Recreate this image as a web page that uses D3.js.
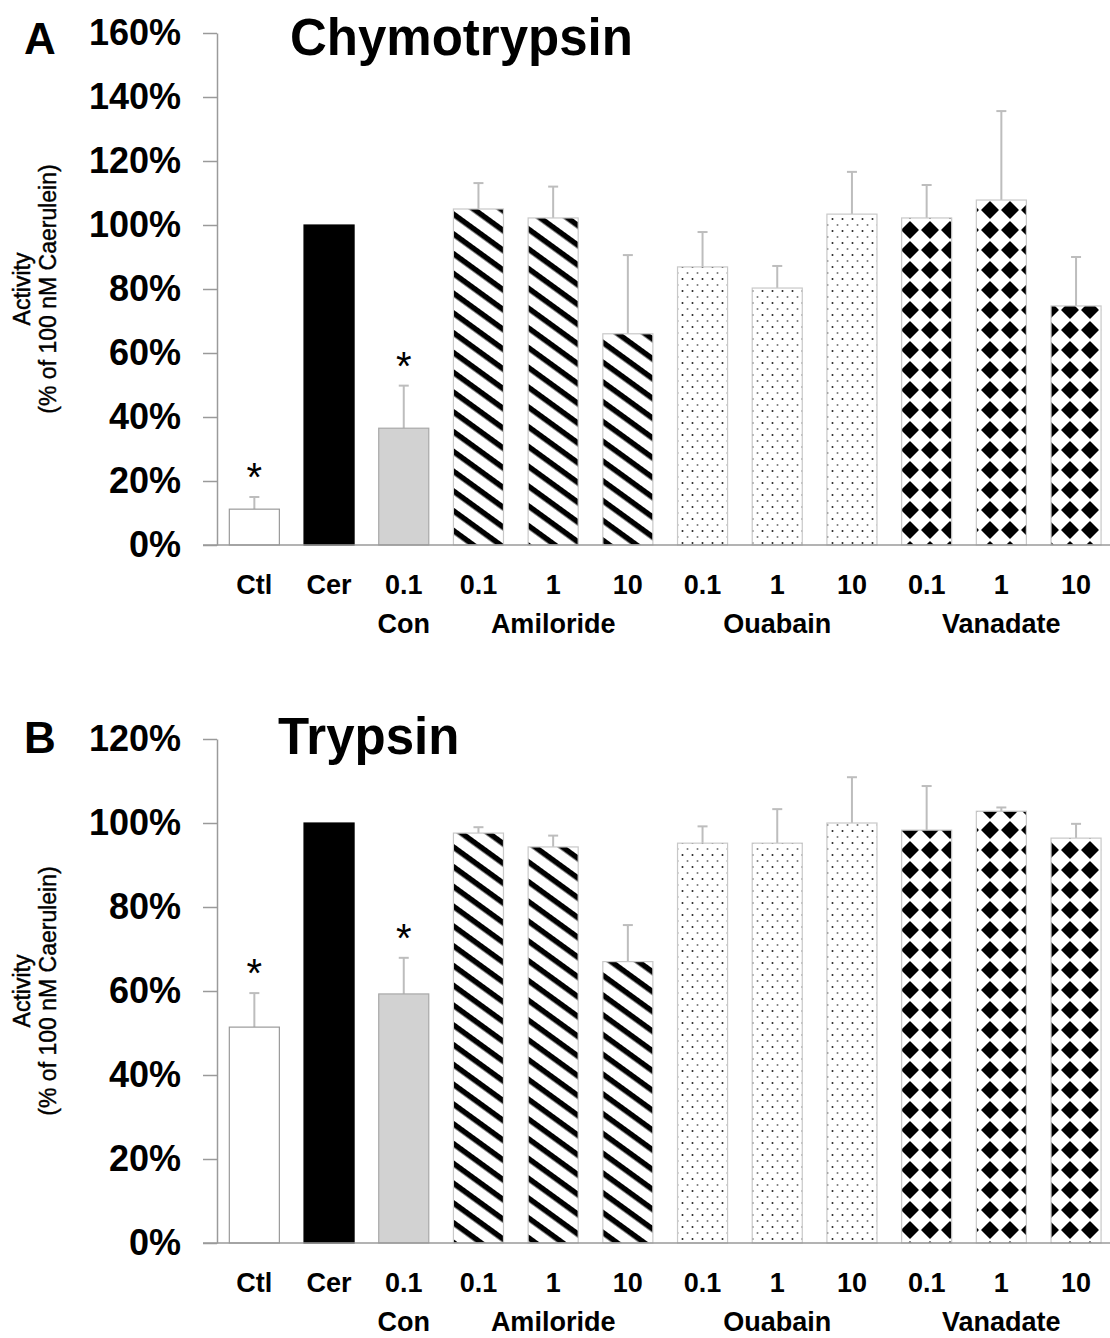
<!DOCTYPE html>
<html>
<head>
<meta charset="utf-8">
<script src="https://cdn.jsdelivr.net/npm/d3@7"></script>
<style>
  body { margin: 0; background: #fff; }
  text { font-family: "Liberation Sans", Arial, Helvetica, sans-serif; }
</style>
</head>
<body>
<div id="chart"></div>
<script>
// 1110 x 1338, two panels stacked

var categories = ["Ctl", "Cer", "0.1", "0.1", "1", "10", "0.1", "1", "10", "0.1", "1", "10"];
var treatment  = ["ctl", "cer", "con", "amil", "amil", "amil", "oua", "oua", "oua", "van", "van", "van"];
var groupLabels = ["Con", "Amiloride", "Ouabain", "Vanadate"];
var groupAt     = [2, 4, 7, 10];   // index of the category each group label sits under

// Panel A - chymotrypsin activity (% of 100 nM caerulein)
var chymoMean = [11.2, 100, 36.5, 105, 102.2, 66, 86.9, 80.3, 103.4, 102.2, 107.8, 74.7];
var chymoErr  = [3.8, 0, 13.3, 8.1, 9.8, 24.6, 10.9, 6.9, 13.2, 10.3, 27.8, 15.3];
var chymoSig  = [true, false, true, false, false, false, false, false, false, false, false, false];
var chymoTicks = [0, 20, 40, 60, 80, 100, 120, 140, 160];

// Panel B - trypsin activity
var tryMean = [51.4, 100, 59.3, 97.6, 94.3, 67, 95.2, 95.2, 100, 98.3, 102.8, 96.4];
var tryErr  = [8.1, 0, 8.6, 1.4, 2.7, 8.7, 4, 8.1, 10.9, 10.5, 0.9, 3.4];
var trySig  = [true, false, true, false, false, false, false, false, false, false, false, false];
var tryTicks = [0, 20, 40, 60, 80, 100, 120];

var W = 1110, H = 1338;
var axisX = 217;

var svg = d3.select('#chart').append('svg')
    .attr('width', W)
    .attr('height', H);

// fill patterns
var defs = svg.append('defs');

var stripe = defs.append('pattern')
    .attr('id', 'stripe')
    .attr('patternUnits', 'userSpaceOnUse')
    .attr('width', 10).attr('height', 16)
    .attr('patternTransform', 'rotate(36)');
stripe.append('rect').attr('width', 10).attr('height', 16).attr('fill', '#fff');
stripe.append('rect').attr('width', 10).attr('height', 5.5).attr('fill', '#000');

var dots = defs.append('pattern')
    .attr('id', 'dots')
    .attr('patternUnits', 'userSpaceOnUse')
    .attr('width', 10).attr('height', 12);
dots.append('rect').attr('width', 10).attr('height', 12).attr('fill', '#fff');
dots.append('circle').attr('cx', 2.5).attr('cy', 3).attr('r', 1).attr('fill', '#222');
dots.append('circle').attr('cx', 7.5).attr('cy', 9).attr('r', 1).attr('fill', '#777');

var diam = defs.append('pattern')
    .attr('id', 'diam')
    .attr('patternUnits', 'userSpaceOnUse')
    .attr('width', 20).attr('height', 20);
diam.append('rect').attr('width', 20).attr('height', 20).attr('fill', '#fff');
diam.append('polygon').attr('points', '10,2 18,10 10,18 2,10')
    .attr('fill', '#000').attr('stroke', '#000').attr('stroke-width', 1.5)
    .attr('stroke-linejoin', 'round');

var fillOf = {
    ctl: '#fff', cer: '#000', con: '#d2d2d2',
    amil: 'url(#stripe)', oua: 'url(#dots)', van: 'url(#diam)'
};
var strokeOf = {
    ctl: '#9a9a9a', cer: '#000', con: '#a8a8a8',
    amil: '#c8c8c8', oua: '#c8c8c8', van: '#c8c8c8'
};

var x = d3.scaleBand()
    .domain(d3.range(categories.length))
    .range([axisX, axisX + 12 * 74.7])
    .paddingInner(0.33)
    .paddingOuter(0.165);

function drawPanel(top, bottom, ticks, means, errs, sig, letter, title, titleX, titleY) {
    var g = svg.append('g');
    var y = d3.scaleLinear()
        .domain([0, d3.max(ticks)])
        .range([bottom, top]);

    // y axis
    var yAxis = d3.axisLeft(y)
        .tickValues(ticks)
        .tickSize(14)
        .tickSizeOuter(0)
        .tickPadding(22)
        .tickFormat(function(d) { return d + '%'; });

    var ax = g.append('g')
        .attr('transform', 'translate(' + axisX + ',0)')
        .call(yAxis);
    ax.select('.domain').attr('stroke', '#9a9a9a').attr('stroke-width', 1.5);
    ax.selectAll('.tick line').attr('stroke', '#9a9a9a').attr('stroke-width', 1.5);
    ax.selectAll('.tick text')
        .attr('fill', '#000')
        .attr('font-size', '36px')
        .attr('font-weight', 'bold')
        .style('font-family', '"Liberation Sans", Arial, sans-serif');

    // error bars (upward only)
    var eb = g.selectAll('.err')
        .data(means.map(function(m, i) { return { i: i, m: m, e: errs[i] }; })
            .filter(function(d) { return d.e > 0; }))
        .enter().append('g')
        .attr('class', 'err');
    eb.append('line')
        .attr('x1', function(d) { return x(d.i) + x.bandwidth() / 2; })
        .attr('x2', function(d) { return x(d.i) + x.bandwidth() / 2; })
        .attr('y1', function(d) { return y(d.m); })
        .attr('y2', function(d) { return y(d.m + d.e); })
        .attr('stroke', '#bdbdbd').attr('stroke-width', 2);
    eb.append('line')
        .attr('x1', function(d) { return x(d.i) + x.bandwidth() / 2 - 5; })
        .attr('x2', function(d) { return x(d.i) + x.bandwidth() / 2 + 5; })
        .attr('y1', function(d) { return y(d.m + d.e); })
        .attr('y2', function(d) { return y(d.m + d.e); })
        .attr('stroke', '#bdbdbd').attr('stroke-width', 2);

    // bars
    g.selectAll('.bar')
        .data(means)
        .enter().append('rect')
        .attr('class', 'bar')
        .attr('x', function(d, i) { return x(i); })
        .attr('width', x.bandwidth())
        .attr('y', function(d) { return y(d); })
        .attr('height', function(d) { return y(0) - y(d); })
        .attr('fill', function(d, i) { return fillOf[treatment[i]]; })
        .attr('stroke', function(d, i) { return strokeOf[treatment[i]]; })
        .attr('stroke-width', 1.2);

    // baseline
    g.append('line')
        .attr('x1', axisX - 14).attr('x2', W)
        .attr('y1', y(0)).attr('y2', y(0))
        .attr('stroke', '#9a9a9a').attr('stroke-width', 1.5);

    // significance stars
    g.selectAll('.star')
        .data(means.map(function(m, i) { return { i: i, m: m, e: errs[i], s: sig[i] }; })
            .filter(function(d) { return d.s; }))
        .enter().append('text')
        .attr('class', 'star')
        .attr('x', function(d) { return x(d.i) + x.bandwidth() / 2; })
        .attr('y', function(d) { return y(d.m + d.e) - 6; })
        .attr('text-anchor', 'middle')
        .attr('font-size', '40px')
        .text('*');

    // category labels
    g.selectAll('.cat')
        .data(categories)
        .enter().append('text')
        .attr('class', 'cat')
        .attr('x', function(d, i) { return x(i) + x.bandwidth() / 2; })
        .attr('y', bottom + 49)
        .attr('text-anchor', 'middle')
        .attr('font-size', '27px')
        .attr('font-weight', 'bold')
        .text(function(d) { return d; });

    g.selectAll('.grp')
        .data(groupLabels)
        .enter().append('text')
        .attr('class', 'grp')
        .attr('x', function(d, i) { return x(groupAt[i]) + x.bandwidth() / 2; })
        .attr('y', bottom + 88)
        .attr('text-anchor', 'middle')
        .attr('font-size', '27px')
        .attr('font-weight', 'bold')
        .text(function(d) { return d; });

    // y title
    var mid = (top + bottom) / 2;
    g.append('text')
        .attr('transform', 'translate(30,' + mid + ') rotate(-90)')
        .attr('text-anchor', 'middle')
        .attr('font-size', '23px')
        .attr('stroke', '#000').attr('stroke-width', 0.5)
        .text('Activity');
    g.append('text')
        .attr('transform', 'translate(56,' + mid + ') rotate(-90)')
        .attr('text-anchor', 'middle')
        .attr('font-size', '23px')
        .attr('stroke', '#000').attr('stroke-width', 0.4)
        .text('(% of 100 nM Caerulein)');

    // panel letter and title
    g.append('text')
        .attr('x', 24).attr('y', titleY - 1)
        .attr('font-size', '44px')
        .attr('font-weight', 'bold')
        .text(letter);
    g.append('text')
        .attr('x', titleX).attr('y', titleY)
        .attr('font-size', '51px')
        .attr('font-weight', 'bold')
        .text(title);
}

drawPanel(33, 545, chymoTicks, chymoMean, chymoErr, chymoSig, 'A', 'Chymotrypsin', 290, 55);
drawPanel(739, 1243, tryTicks, tryMean, tryErr, trySig, 'B', 'Trypsin', 278, 754);
</script>
</body>
</html>
